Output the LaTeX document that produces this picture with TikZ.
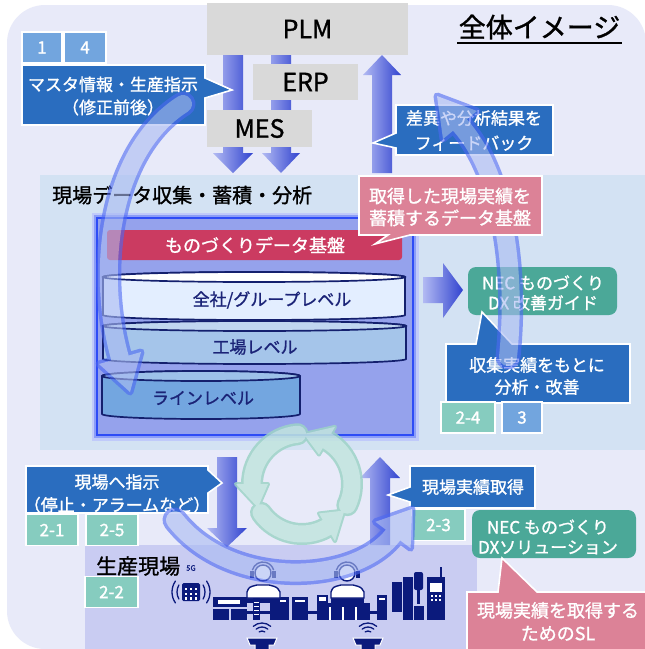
\documentclass[tikz,border=0pt]{standalone}
\usepackage{fontspec}
\setmainfont{Noto Sans CJK JP}[BoldFont={Noto Sans CJK JP},BoldFeatures={FakeBold=1.2}]
\usetikzlibrary{arrows.meta}
\definecolor{bgouter}{HTML}{E8EAF9}
\definecolor{anaarea}{HTML}{D3E2F3}
\definecolor{prodarea}{HTML}{C9CCF2}
\definecolor{innerfill}{HTML}{95A2EC}
\definecolor{innerline}{HTML}{2E4CF6}
\definecolor{cblue}{HTML}{2A6DBF}
\definecolor{cpink}{HTML}{DC8297}
\definecolor{redbar}{HTML}{CB3B61}
\definecolor{tealbox}{HTML}{4BA898}
\definecolor{mint}{HTML}{86CCBF}
\definecolor{tagblue}{HTML}{72A5DE}
\definecolor{grayfill}{HTML}{D9D9D9}
\definecolor{navy}{HTML}{0B1A7C}
\definecolor{cylnavy}{HTML}{14206E}
\definecolor{cylA}{HTML}{E3EEFF}
\definecolor{cylB}{HTML}{A5C5EA}
\definecolor{cylC}{HTML}{73A6E0}
\definecolor{arrL}{HTML}{B2BAF3}
\definecolor{arrD}{HTML}{3143CF}
\definecolor{bandc}{HTML}{A9BAF2}
\definecolor{bandg}{HTML}{4C68F2}
\definecolor{cycc}{HTML}{C2E5DE}
\definecolor{cycg}{HTML}{9DD3C7}
\definecolor{txtnavy}{HTML}{1B2377}
\begin{document}
\bfseries
\begin{tikzpicture}[x=1pt,y=-1pt,
  wtxt/.style={text=white,font=\fontsize{17}{23}\selectfont,align=center,inner sep=0pt},
  cbox/.style={draw=white,line width=1.6pt,line join=miter},
  tagbox/.style={draw=white,line width=1.4pt,text=white,font=\fontsize{17}{20}\selectfont,inner sep=0pt},
  gbox/.style={fill=grayfill,font=\fontsize{25}{28}\selectfont,inner sep=0pt},
  blockarrow/.style={left color=arrL,right color=arrD,draw=none},
  cyltxt/.style={text=txtnavy,font=\fontsize{17}{20}\selectfont,inner sep=0pt},
  cylline/.style={draw=cylnavy,line width=1.7pt},
  teal/.style={fill=tealbox,rounded corners=8pt},
  bandglow/.style={draw=bandg,line width=25pt,line cap=round},
  bandfill/.style={draw=bandc,line width=18pt,line cap=round},
  icon/.style={fill=navy,draw=none},
  wave/.style={draw=navy,line width=1.3pt,line cap=round}]
\useasboundingbox (0,0) rectangle (645,649);
\fill[white] (0,0) rectangle (645,649);
% overall panel
\fill[bgouter,rounded corners=38pt] (7,5) rectangle (646,649);
% areas
\fill[anaarea] (40,175) rectangle (645,450);
\fill[prodarea] (85,545) rectangle (477,649);

% block arrows between the systems
\shade[blockarrow] (223,55) -- (243,55) -- (243,153) -- (253,153) -- (233,173) -- (213,153) -- (223,153) -- cycle;
\shade[blockarrow] (271,55) -- (291,55) -- (291,153) -- (300,153) -- (281,173) -- (262,153) -- (271,153) -- cycle;
\shade[blockarrow] (372,173) -- (392,173) -- (392,75) -- (401,75) -- (382,55) -- (363,75) -- (372,75) -- cycle;

% system boxes
\node[gbox,minimum width=201pt,minimum height=52pt] (plm) at (307.5,29) {PLM};
\node[gbox,minimum width=105pt,minimum height=36pt] (erp) at (305.5,82) {ERP};
\node[gbox,minimum width=105pt,minimum height=37pt] (mes) at (259.5,128.5) {MES};

% heading
\node[font=\fontsize{27}{30}\selectfont,inner sep=0pt] (head) at (539.5,27) {全体イメージ};
\draw[line width=1.4pt] (457,43) -- (622,43);

% master data callout
\node[tagbox,fill=tagblue,minimum width=40pt,minimum height=31pt] (t1) at (42,47.5) {1};
\node[tagbox,fill=tagblue,minimum width=42pt,minimum height=31pt] (t4) at (85,47.5) {4};
\filldraw[cbox,fill=cblue] (22,65) -- (205,65) -- (205,78) -- (232,90) -- (205,98) -- (205,125) -- (22,125) -- cycle;
\node[wtxt] (master) at (113,96) {マスタ情報・生産指示\\（修正前後）};

% feedback callout
\filldraw[cbox,fill=cblue] (396,105) -- (553,105) -- (553,155) -- (396,155) -- (396,148) -- (373,143) -- (396,133) -- cycle;
\node[wtxt,font=\fontsize{17}{25}\selectfont] (fb) at (474,130.5) {差異や分析結果を\\フィードバック};

% data collection block
\node[anchor=west,font=\fontsize{20}{24}\selectfont,inner sep=0pt] (anatitle) at (52,195) {現場データ収集・蓄積・分析};
\draw[bandg!35,line width=11pt] (97,218) rectangle (413,435);
\draw[bandg!65,line width=6pt] (97,218) rectangle (413,435);
\fill[innerfill] (97,218) rectangle (413,435);
\draw[innerline,line width=2pt] (97,218) rectangle (413,435);
\fill[redbar,rounded corners=3pt] (107,230) rectangle (402,260);
\node[wtxt,font=\fontsize{18}{20}\selectfont] (base) at (255,245) {ものづくりデータ基盤};

% storage levels
\filldraw[cylline,fill=cylC] (102,376) -- (102,414) arc[start angle=180,end angle=360,x radius=99pt,y radius=5pt] -- (300,376) arc[start angle=0,end angle=180,x radius=99pt,y radius=5pt] -- cycle;
\filldraw[cylline,fill=cylC!70!white] (201,376) ellipse [x radius=99pt,y radius=5pt];
\filldraw[cylline,fill=cylB] (103,326) -- (103,359) arc[start angle=180,end angle=360,x radius=151.5pt,y radius=5pt] -- (406,326) arc[start angle=0,end angle=180,x radius=151.5pt,y radius=5pt] -- cycle;
\filldraw[cylline,fill=cylB!70!white] (254.5,326) ellipse [x radius=151.5pt,y radius=5pt];
\filldraw[cylline,fill=cylA] (103,277) -- (103,315) arc[start angle=180,end angle=360,x radius=151pt,y radius=5pt] -- (405,277) arc[start angle=0,end angle=180,x radius=151pt,y radius=5pt] -- cycle;
\filldraw[cylline,fill=white] (254,277) ellipse [x radius=151pt,y radius=5pt];
\node[cyltxt] (lvA) at (272,300) {全社/グループレベル};
\node[cyltxt] (lvB) at (255,347) {工場レベル};
\node[cyltxt] (lvC) at (203,398) {ラインレベル};

% improvement guide
\shade[blockarrow] (423,277) -- (443,277) -- (443,263) -- (463,290) -- (443,318) -- (443,303) -- (423,303) -- cycle;
\fill[teal] (468,267) rectangle (617,315);
\node[wtxt,font=\fontsize{17}{20}\selectfont] (guide) at (543,293) {NEC ものづくり\\DX 改善ガイド};
\filldraw[cbox,fill=cblue] (446,344) -- (476,344) -- (482,312) -- (512,344) -- (630,344) -- (630,403) -- (446,403) -- cycle;
\node[wtxt,font=\fontsize{17}{22}\selectfont] (analyse) at (537,376) {収集実績をもとに\\分析・改善};
\node[tagbox,fill=mint,minimum width=54pt,minimum height=31pt] (t24) at (468,417.5) {2-4};
\node[tagbox,fill=tagblue,minimum width=40pt,minimum height=31pt] (t3) at (522,417.5) {3};

% shop floor arrows
\shade[blockarrow] (217,457) -- (237,457) -- (237,528) -- (247,528) -- (227,547) -- (207,528) -- (217,528) -- cycle;
\shade[blockarrow] (370,545) -- (390,545) -- (390,478) -- (400,478) -- (380,457) -- (360,478) -- (370,478) -- cycle;

% instruction callout
\filldraw[cbox,fill=cblue] (26,466) -- (208,466) -- (208,470) -- (222,483) -- (208,493) -- (208,513) -- (26,513) -- cycle;
\node[wtxt] (instr) at (117,493.5) {現場へ指示\\（停止・アラームなど）};
\node[tagbox,fill=mint,minimum width=52pt,minimum height=31pt] (t21) at (52,530) {2-1};
\node[tagbox,fill=mint,minimum width=52pt,minimum height=31pt] (t25) at (112,530) {2-5};

% result acquisition callout
\filldraw[cbox,fill=cblue] (410,466) -- (535,466) -- (535,508) -- (410,508) -- (410,502) -- (388,495) -- (410,487) -- cycle;
\node[wtxt] (acq) at (473,487) {現場実績取得};
\node[tagbox,fill=mint,minimum width=53pt,minimum height=31pt] (t23) at (438.5,525) {2-3};
\fill[teal] (472,510) rectangle (636,558);
\node[wtxt,font=\fontsize{17}{20}\selectfont] (sol) at (548,537) {NEC ものづくり\\DXソリューション};

% production floor
\node[anchor=west,font=\fontsize{21}{24}\selectfont,inner sep=0pt] (floor) at (96,566) {生産現場};
\node[text=navy,font=\fontsize{7.5}{8}\selectfont,inner sep=0pt] (fiveg) at (191,568) {5G};
\node[tagbox,fill=mint,minimum width=53pt,minimum height=31pt] (t22) at (111.5,592) {2-2};

% 5G terminal
\fill[icon,rounded corners=1.5pt] (182,583) rectangle (200,601);
\foreach \gx in {186,191,196} \foreach \gy in {589,594,598.5} \fill[white] (\gx-1.4,\gy-1.4) rectangle (\gx+1.4,\gy+1.4);
\draw[wave] (191,592) ++(150:14pt) arc[start angle=150,end angle=210,radius=14pt];
\draw[wave] (191,592) ++(145:19pt) arc[start angle=145,end angle=215,radius=19pt];
\draw[wave] (191,592) ++(-30:14pt) arc[start angle=-30,end angle=30,radius=14pt];
\draw[wave] (191,592) ++(-35:19pt) arc[start angle=-35,end angle=35,radius=19pt];

% line machines
\fill[icon] (213,597) rectangle (247,607);
\fill[white] (218,599.5) rectangle (240,604);
\fill[icon] (213,609) rectangle (229,620);
\fill[icon] (231,609) rectangle (247,620);
\fill[icon] (247,611) rectangle (270,614);
\fill[icon] (270,597) rectangle (289,620);
\fill[white] (273,600) rectangle (286,601.5);
\fill[icon] (292,597) rectangle (308,620);
\fill[white] (295,600) rectangle (305,601.5);
\fill[icon] (308,611) rectangle (317,614);
\filldraw[draw=navy,fill=white,line width=1.2pt] (318,596) rectangle (327,602);
\fill[icon] (317,603) rectangle (370,620);
\foreach \sx in {330,343,356} \fill[white] (\sx-0.6,607) rectangle (\sx+0.6,620);
\fill[icon] (370,611) rectangle (377,614);
\fill[icon] (377,595) rectangle (387,620);
\fill[white] (379,598) rectangle (385,599.5);
% tall machines
\fill[icon] (392,582) rectangle (402,612);
\fill[icon] (403,577) rectangle (413,620);
\fill[icon,rounded corners=2pt] (414,572) rectangle (423,590);
\fill[icon] (417,590) rectangle (420,604);
\fill[icon] (414,606) rectangle (424,620);
\fill[icon] (427,577) rectangle (445,620);
\fill[white] (430,583) rectangle (442,592);
\foreach \kx in {432,436,440} \foreach \ky in {596,600} \fill[white] (\kx-1,\ky-1) rectangle (\kx+1,\ky+1);
\fill[icon] (439.5,567) rectangle (441.5,577);

% operators
\foreach \ox/\name in {263/opA,347/opB}{
  \fill[icon] (\ox-16,598) rectangle (\ox+17,603);
  \filldraw[draw=navy,fill=white,line width=1.4pt] (\ox-16,598) -- (\ox-16,592) .. controls (\ox-14,587) .. (\ox-6,585) -- (\ox+6,585) .. controls (\ox+14,587) .. (\ox+17,592) -- (\ox+17,598) -- cycle;
  \filldraw[draw=navy,fill=white,line width=1.4pt] (\ox,573) circle (8pt);
  \draw[navy,line width=1.4pt] (\ox,573) ++(165:11pt) arc[start angle=165,end angle=15,radius=11pt];
  \fill[icon] (\ox-13,571) rectangle (\ox-9,578);
  \fill[icon] (\ox+9,571) rectangle (\ox+13,578);
  \coordinate (\name) at (\ox,573);
}
\fill[icon] (253,598) rectangle (260,620);
\foreach \sy in {602,606,610,614} \fill[white] (254,\sy) rectangle (259,\sy+1);

% wireless desks
\foreach \wx in {262,368}{
  \draw[wave] (\wx,636) ++(55:5pt) arc[start angle=55,end angle=125,radius=5pt];
  \draw[wave] (\wx,636) ++(50:9pt) arc[start angle=50,end angle=130,radius=9pt];
  \draw[wave] (\wx,636) ++(48:13pt) arc[start angle=48,end angle=132,radius=13pt];
  \filldraw[draw=white,line width=1pt,fill=navy] (\wx-15,638) -- (\wx+15,638) -- (\wx+12,645) -- (\wx+7,645) -- (\wx+7,650) -- (\wx-7,650) -- (\wx-7,645) -- (\wx-12,645) -- cycle;
}

% improvement cycle icon
\begin{scope}[shift={(302,484)},transparency group,opacity=0.85]
  \foreach \t [evaluate=\t as \e using \t+85, evaluate=\t as \h using \t+113] in {95,215,335}{
    \draw[cycg,line width=22pt,line cap=round] (\t:50pt) arc[start angle=\t,end angle=\e,radius=50pt];
    \filldraw[cycg,line width=4pt,line join=round] (\e:34pt) -- (\h:50pt) -- (\e:66pt) -- cycle;
  }
  \foreach \t [evaluate=\t as \e using \t+85, evaluate=\t as \h using \t+113] in {95,215,335}{
    \draw[cycc,line width=17pt,line cap=round] (\t:50pt) arc[start angle=\t,end angle=\e,radius=50pt];
    \fill[cycc] (\e:34pt) -- (\h:50pt) -- (\e:66pt) -- cycle;
  }
\end{scope}

% large cycle: instruct, collect, feed back
\begin{scope}[transparency group,opacity=0.6]
  \draw[bandglow] (183,104) .. controls (110,150) and (95,270) .. (120,358);
  \filldraw[bandg,line width=7pt,line join=round] (99,364) -- (130,392) -- (141,352) -- cycle;
  \draw[bandfill] (183,104) .. controls (110,150) and (95,270) .. (120,358);
  \fill[bandc] (99,364) -- (130,392) -- (141,352) -- cycle;
\end{scope}
\begin{scope}[transparency group,opacity=0.6]
  \draw[bandglow] (508,357) .. controls (518,260) and (500,170) .. (460,125);
  \filldraw[bandg,line width=7pt,line join=round] (477,111) -- (437,96) -- (443,139) -- cycle;
  \draw[bandfill] (508,357) .. controls (518,260) and (500,170) .. (460,125);
  \fill[bandc] (477,111) -- (437,96) -- (443,139) -- cycle;
\end{scope}
\begin{scope}[transparency group,opacity=0.6]
  \draw[bandglow] (175,520) .. controls (230,590) and (355,585) .. (393,535);
  \filldraw[bandg,line width=7pt,line join=round] (410.6,548.2) -- (412,509) -- (375.4,521.8) -- cycle;
  \draw[bandfill] (175,520) .. controls (230,590) and (355,585) .. (393,535);
  \fill[bandc] (410.6,548.2) -- (412,509) -- (375.4,521.8) -- cycle;
\end{scope}

% data platform callout
\filldraw[cbox,fill=cpink] (359,176) -- (542,176) -- (542,235) -- (410,235) -- (375,244) -- (388,235) -- (359,235) -- cycle;
\node[wtxt,font=\fontsize{18}{22}\selectfont] (store) at (450,207) {取得した現場実績を\\蓄積するデータ基盤};
% solution callout
\filldraw[cbox,fill=cpink] (467,592) -- (498,592) -- (502,558) -- (537,592) -- (646,592) -- (646,652) -- (467,652) -- cycle;
\node[wtxt,font=\fontsize{18}{23}\selectfont] (slnote) at (558,621.5) {現場実績を取得する\\ためのSL};
\end{tikzpicture}
\end{document}
